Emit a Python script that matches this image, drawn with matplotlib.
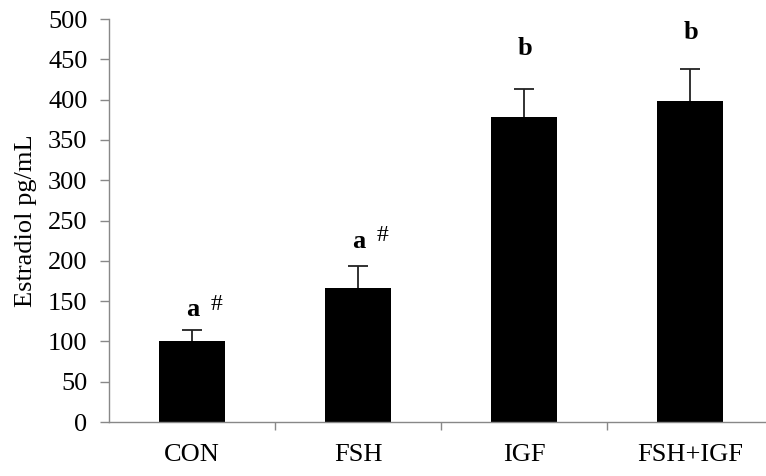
import numpy as np
import matplotlib.pyplot as plt

plt.rcParams['font.family'] = ['Liberation Serif', 'DejaVu Serif']

groups = ['CON', 'FSH', 'IGF', 'FSH+IGF']
estradiol = [100, 166, 379, 398]
sem = [14, 28, 34, 40]
letters = ['a', 'a', 'b', 'b']
marks = ['#', '#', '', '']
label_y = [139, 224, 464, 483]

fig = plt.figure(figsize=(7.66, 4.76), dpi=100)
ax = fig.add_axes([0.1423, 0.1134, 0.8668, 0.8466])

x = np.arange(len(groups))
ax.bar(x, estradiol, width=0.4, color='black', zorder=2)
_, caps, _ = ax.errorbar(x, estradiol, yerr=[np.zeros(len(sem)), sem], fmt='none',
                         ecolor='#222222', elinewidth=1.3, capsize=7, capthick=1.3, zorder=1)
caps[0].set_visible(False)  # no cap on the lower side

for xi, ly, let, m in zip(x, label_y, letters, marks):
    ax.text(xi + 0.005, ly, let, ha='center', va='center', fontsize=19, fontweight='bold')
    if m:
        ax.text(xi + 0.145, ly + 7, m, ha='center', va='center', fontsize=17)

ax.set_xlim(-0.5, 3.5)
ax.set_ylim(0, 500)
ax.set_yticks(np.arange(0, 501, 50))
ax.set_xticks(x)
ax.set_xticklabels(groups, fontsize=19)
ax.set_xticks(np.arange(0.5, 3.5, 1), minor=True)
ax.tick_params(axis='x', which='major', length=0, pad=16)
ax.tick_params(axis='x', which='minor', length=5.5, direction='out', color='#888888', width=1)
ax.tick_params(axis='y', length=6.5, direction='out', color='#888888', width=1, labelsize=19, pad=9)

for side in ['top', 'right']:
    ax.spines[side].set_visible(False)
for side in ['left', 'bottom']:
    ax.spines[side].set_color('#888888')
    ax.spines[side].set_linewidth(1)

ax.set_ylabel('Estradiol pg/mL', fontsize=19)
ax.yaxis.set_label_coords(-0.108, 0.5)

fig.savefig('out.png', dpi=100)
